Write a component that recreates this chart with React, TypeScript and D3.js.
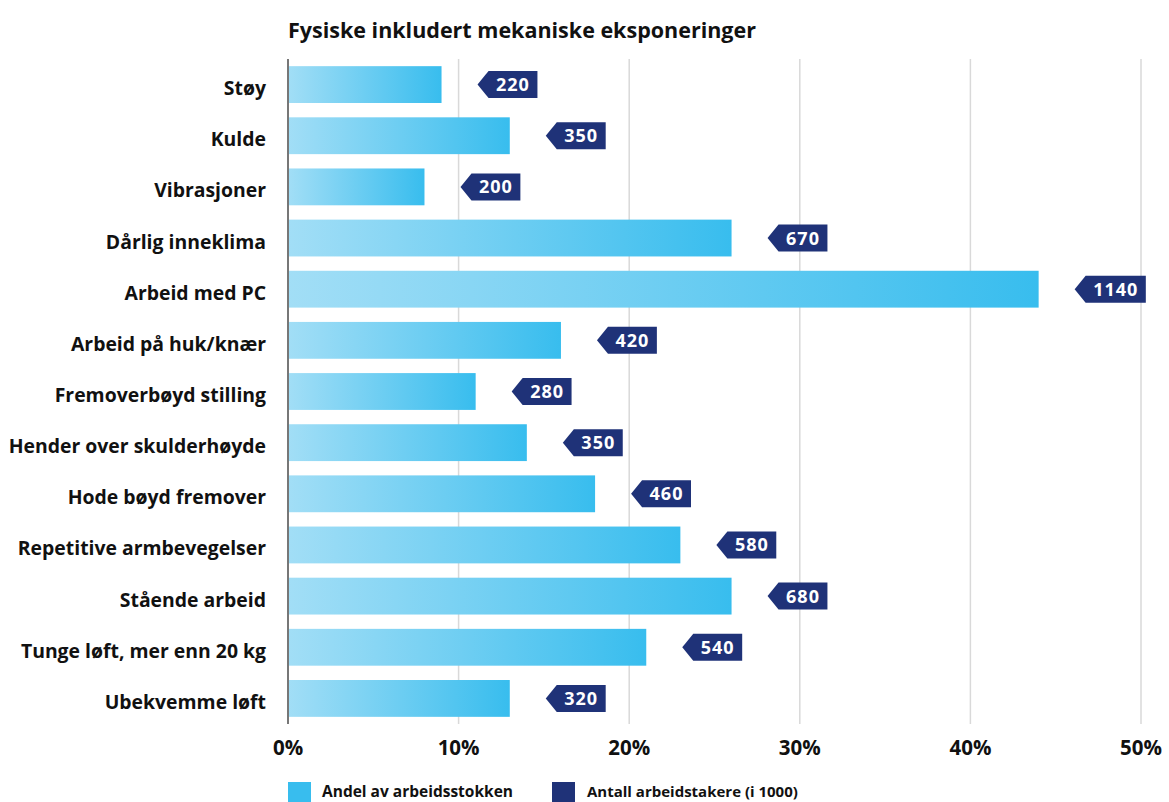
import React from "react";
import * as d3 from "d3";

const categories = [
  "Støy",
  "Kulde",
  "Vibrasjoner",
  "Dårlig inneklima",
  "Arbeid med PC",
  "Arbeid på huk/knær",
  "Fremoverbøyd stilling",
  "Hender over skulderhøyde",
  "Hode bøyd fremover",
  "Repetitive armbevegelser",
  "Stående arbeid",
  "Tunge løft, mer enn 20 kg",
  "Ubekvemme løft",
];
const shares = [9, 13, 8, 26, 44, 16, 11, 14, 18, 23, 26, 21, 13];
const counts = [220, 350, 200, 670, 1140, 420, 280, 350, 460, 580, 680, 540, 320];
const ticks = [0, 10, 20, 30, 40, 50];
const title = "Fysiske inkludert mekaniske eksponeringer";
const legendLabels = ["Andel av arbeidsstokken", "Antall arbeidstakere (i 1000)"];

const W = 1169;
const H = 802;
const FONT = "'Open Sans', 'Noto Sans', sans-serif";
const NAVY = "#1f3278";
const BLUE = "#38bdee";

export default function App() {
  const x = d3.scaleLinear().domain([0, 50]).range([288, 1141]);
  const y = d3
    .scaleBand<string>()
    .domain(categories)
    .range([59, 724])
    .paddingInner(0.28)
    .paddingOuter(0.14);
  const bh = y.bandwidth();
  const tagH = 27;
  return (
    <svg
      width={W}
      height={H}
      style={{ position: "absolute", left: 0, top: 0, background: "#fff" }}
      fontFamily={FONT}
    >
      <defs>
        <linearGradient id="barGrad" x1="0" x2="1" y1="0" y2="0">
          <stop offset="0" stopColor="#a2def6" />
          <stop offset="1" stopColor={BLUE} />
        </linearGradient>
      </defs>
      <text x={288} y={38} fontSize={21.5} fontWeight={700} fill="#111">
        {title}
      </text>
      {ticks.slice(1).map((t) => (
        <line key={t} x1={x(t)} x2={x(t)} y1={59} y2={724} stroke="#d9d9d9" strokeWidth={1.5} />
      ))}
      {categories.map((c, i) => {
        const y0 = y(c)!;
        const cy = y0 + bh / 2;
        const xe = x(shares[i]);
        const tip = xe + 36;
        const label = String(counts[i]);
        const tw = label.length * 11.3 + 15;
        const rx = tip + 11;
        const path = `M${tip},${cy} L${rx},${cy - tagH / 2} L${rx + tw},${cy - tagH / 2} L${rx + tw},${cy + tagH / 2} L${rx},${cy + tagH / 2} Z`;
        return (
          <g key={c}>
            <rect x={x(0)} y={y0} width={xe - x(0)} height={bh} fill="url(#barGrad)" />
            <text x={266} y={cy + 10.5} textAnchor="end" fontSize={19.4} fontWeight={700} fill="#111">
              {c}
            </text>
            <path d={path} fill={NAVY} />
            <text x={rx + tw / 2} y={cy + 6.5} textAnchor="middle" fontSize={18} fontWeight={700} fill="#fff" letterSpacing={1}>
              {label}
            </text>
          </g>
        );
      })}
      <line x1={x(0)} x2={x(0)} y1={59} y2={724} stroke="#777" strokeWidth={2} />
      {ticks.map((t) => (
        <text key={t} x={x(t)} y={755} textAnchor="middle" fontSize={20.5} fontWeight={700} fill="#111">
          {t}%
        </text>
      ))}
      <rect x={288} y={782} width={23} height={23} fill={BLUE} />
      <text x={322} y={797} fontSize={15.5} fontWeight={700} fill="#111">
        {legendLabels[0]}
      </text>
      <rect x={552} y={782} width={23} height={23} fill={NAVY} />
      <text x={587} y={797} fontSize={15} fontWeight={700} fill="#111">
        {legendLabels[1]}
      </text>
    </svg>
  );
}
